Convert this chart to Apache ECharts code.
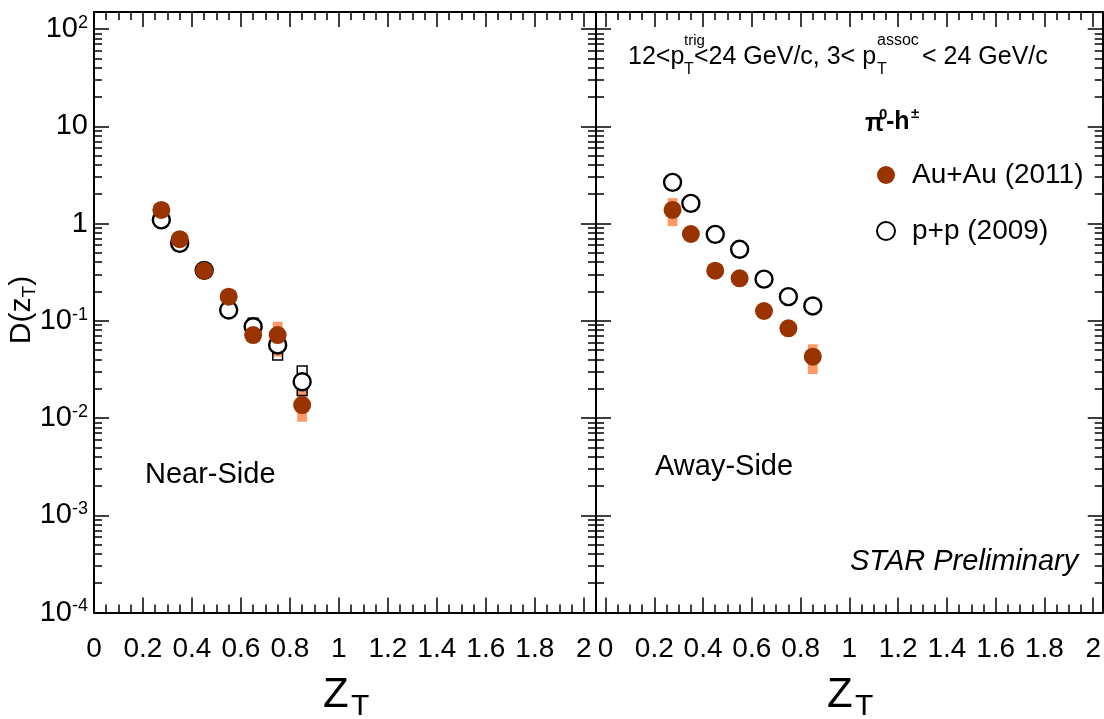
<!DOCTYPE html>
<html>
<head>
<meta charset="utf-8">
<script src="https://cdn.jsdelivr.net/npm/echarts@6/dist/echarts.min.js"></script>
<style>
  html, body { margin: 0; padding: 0; background: #fff; }
  #chart { width: 1104px; height: 719px; }
</style>
</head>
<body>
<div id="chart"></div>
<script>
// z_T bin centres shared by every data set
const zT = [0.275, 0.35, 0.45, 0.55, 0.65, 0.75, 0.85];

// Near-side D(z_T)
const nearAuAu      = [1.38, 0.69, 0.327, 0.177, 0.0713, 0.0713, 0.0136];
const nearAuAuSysLo = [1.20, 0.60, 0.290, 0.155, 0.0620, 0.0427, 0.00916];
const nearAuAuSysHi = [1.55, 0.78, 0.370, 0.200, 0.0820, 0.0977, 0.0191];
const nearPP        = [1.09, 0.625, 0.330, 0.129, 0.0869, 0.0564, 0.0236];
const nearPPSysLo   = [0.95, 0.55, 0.290, 0.115, 0.0750, 0.0394, 0.0170];
const nearPPSysHi   = [1.25, 0.70, 0.380, 0.145, 0.1060, 0.0750, 0.0343];

// Away-side D(z_T)
const awayAuAu      = [1.38, 0.78, 0.327, 0.273, 0.126, 0.0835, 0.0427];
const awayAuAuSysLo = [0.94, 0.68, 0.280, 0.240, 0.110, 0.0730, 0.0283];
const awayAuAuSysHi = [1.82, 0.90, 0.380, 0.310, 0.145, 0.0950, 0.0573];
const awayPP        = [2.65, 1.61, 0.774, 0.543, 0.268, 0.177, 0.142];
const awayPPSysLo   = [2.40, 1.46, 0.700, 0.490, 0.242, 0.160, 0.128];
const awayPPSysHi   = [2.90, 1.78, 0.850, 0.600, 0.295, 0.195, 0.156];

// Axis ticks and labels
const xMajorTicks  = [0, 0.2, 0.4, 0.6, 0.8, 1, 1.2, 1.4, 1.6, 1.8, 2];
const xTickLabels  = ['0', '0.2', '0.4', '0.6', '0.8', '1', '1.2', '1.4', '1.6', '1.8', '2'];
const yDecades     = [1e-4, 1e-3, 1e-2, 1e-1, 1, 10, 100];

const FONT = '"Liberation Sans", Arial, Helvetica, sans-serif';
const AU_COLOR = '#993300';
const SYS_COLOR = '#ff9966';

// minor tick positions: 0.05 steps in x, 2..9 x 10^k in y
const xMinorTicks = [];
for (let i = 1; i <= 40; i++) { if (i % 4 !== 0) xMinorTicks.push(+(i * 0.05).toFixed(2)); }
const yMinorTicks = [];
for (let k = -4; k <= 1; k++) { for (let m = 2; m <= 9; m++) yMinorTicks.push(+(m * Math.pow(10, k)).toPrecision(3)); }

const TICK_STYLE = { color: '#000', width: 1.5 };
const LINE_STYLE = { color: '#000', width: 2 };

function xAxesFor(gridIndex, min, max) {
  const common = { type: 'value', gridIndex, min, max, splitLine: { show: false } };
  return [
    Object.assign({}, common, {
      position: 'bottom',
      axisLine: { show: true, onZero: false, lineStyle: LINE_STYLE },
      axisTick: { show: true, inside: true, length: 15, lineStyle: TICK_STYLE, customValues: xMajorTicks },
      axisLabel: {
        show: true, margin: 23, fontSize: 28, fontFamily: FONT, color: '#000',
        customValues: xMajorTicks,
        formatter: v => { const i = xMajorTicks.findIndex(t => Math.abs(t - v) < 1e-6); return i >= 0 ? xTickLabels[i] : ''; }
      }
    }),
    Object.assign({}, common, {
      position: 'bottom',
      axisLine: { show: false, onZero: false },
      axisTick: { show: true, inside: true, length: 8, lineStyle: TICK_STYLE, customValues: xMinorTicks },
      axisLabel: { show: false }
    }),
    Object.assign({}, common, {
      position: 'top',
      axisLine: { show: true, onZero: false, lineStyle: LINE_STYLE },
      axisTick: { show: true, inside: true, length: 15, lineStyle: TICK_STYLE, customValues: xMajorTicks },
      axisLabel: { show: false }
    }),
    Object.assign({}, common, {
      position: 'top',
      axisLine: { show: false, onZero: false },
      axisTick: { show: true, inside: true, length: 8, lineStyle: TICK_STYLE, customValues: xMinorTicks },
      axisLabel: { show: false }
    })
  ];
}

function yAxesFor(gridIndex, withLabels) {
  const common = { type: 'log', logBase: 10, gridIndex, min: 1e-4, max: 149.6, splitLine: { show: false } };
  return [
    Object.assign({}, common, {
      position: 'left',
      axisLine: { show: true, onZero: false, lineStyle: LINE_STYLE },
      axisTick: { show: true, inside: true, length: 15, lineStyle: TICK_STYLE, customValues: yDecades },
      axisLabel: withLabels ? {
        show: true, margin: 6, fontFamily: FONT, color: '#000',
        customValues: yDecades,
        formatter: v => {
          const e = Math.round(Math.log10(v));
          if (e === 0) return '{b|1}';
          if (e === 1) return '{b|10}';
          return '{b|10}{s|' + e + '}';
        },
        rich: {
          b: { fontSize: 29, fontFamily: FONT, color: '#000', lineHeight: 30 },
          s: { fontSize: 18, fontFamily: FONT, color: '#000', lineHeight: 20, verticalAlign: 'top' }
        }
      } : { show: false }
    }),
    Object.assign({}, common, {
      position: 'left',
      axisLine: { show: false, onZero: false },
      axisTick: { show: true, inside: true, length: 8, lineStyle: TICK_STYLE, customValues: yMinorTicks },
      axisLabel: { show: false }
    }),
    Object.assign({}, common, {
      position: 'right',
      axisLine: { show: true, onZero: false, lineStyle: LINE_STYLE },
      axisTick: { show: true, inside: true, length: 15, lineStyle: TICK_STYLE, customValues: yDecades },
      axisLabel: { show: false }
    }),
    Object.assign({}, common, {
      position: 'right',
      axisLine: { show: false, onZero: false },
      axisTick: { show: true, inside: true, length: 8, lineStyle: TICK_STYLE, customValues: yMinorTicks },
      axisLabel: { show: false }
    })
  ];
}

// systematic-uncertainty boxes, drawn in data coordinates
const BOX_HALF_WIDTH = 0.02;
function boxSeries(axisIndex, lo, hi, style) {
  return {
    type: 'custom',
    xAxisIndex: axisIndex, yAxisIndex: axisIndex,
    silent: true,
    data: zT.map((x, i) => [x, lo[i], hi[i]]),
    encode: { x: 0, y: [1, 2] },
    renderItem: (params, api) => {
      const x = api.value(0);
      const a = api.coord([x - BOX_HALF_WIDTH, api.value(1)]);
      const b = api.coord([x + BOX_HALF_WIDTH, api.value(2)]);
      return {
        type: 'rect',
        shape: { x: a[0], y: b[1], width: b[0] - a[0], height: a[1] - b[1] },
        style: style
      };
    }
  };
}

function pointSeries(name, axisIndex, values, itemStyle, size) {
  return {
    type: 'scatter', name,
    xAxisIndex: axisIndex, yAxisIndex: axisIndex,
    symbol: 'circle', symbolSize: size,
    itemStyle,
    emphasis: { disabled: true },
    data: zT.map((x, i) => [x, values[i]])
  };
}

const auStyle = { color: AU_COLOR, opacity: 1 };
const ppStyle = { color: '#fff', borderColor: '#000', borderWidth: 2.4, opacity: 1 };
const auBox = { fill: SYS_COLOR };
const ppBox = { fill: 'none', stroke: '#000', lineWidth: 1.5 };

function txt(x, y, text, size, extra) {
  return {
    type: 'text', x, y,
    style: Object.assign({ text, fontSize: size, fontFamily: FONT, fill: '#000', verticalAlign: 'middle', align: 'left' }, extra || {})
  };
}

const chart = echarts.init(document.getElementById('chart'), null, { renderer: 'canvas' });
chart.setOption({
  animation: false,
  backgroundColor: '#fff',
  grid: [
    { left: 94, top: 12, width: 502, height: 600.5 },
    { left: 596, top: 12, width: 507, height: 600.5 }
  ],
  xAxis: [].concat(xAxesFor(0, 0, 2.05), xAxesFor(1, -0.039, 2.039)),
  yAxis: [].concat(yAxesFor(0, true), yAxesFor(1, false)),
  legend: {
    orient: 'vertical', left: 871, top: 156,
    itemWidth: 18, itemHeight: 18, itemGap: 28,
    selectedMode: false,
    data: ['Au+Au (2011)', 'p+p (2009)'],
    textStyle: { fontSize: 28, fontFamily: FONT, color: '#000', padding: [0, 0, 0, 12] }
  },
  series: [
    boxSeries(0, nearAuAuSysLo, nearAuAuSysHi, auBox),
    boxSeries(0, nearPPSysLo, nearPPSysHi, ppBox),
    pointSeries('p+p (2009)', 0, nearPP, ppStyle, 17),
    pointSeries('Au+Au (2011)', 0, nearAuAu, auStyle, 18),
    boxSeries(4, awayAuAuSysLo, awayAuAuSysHi, auBox),
    boxSeries(4, awayPPSysLo, awayPPSysHi, ppBox),
    pointSeries('p+p (2009)', 4, awayPP, ppStyle, 17),
    pointSeries('Au+Au (2011)', 4, awayAuAu, auStyle, 18)
  ],
  graphic: [
    // y-axis title D(z_T)
    {
      type: 'text', x: 22, y: 310, rotation: Math.PI / 2,
      style: {
        text: '{a|D(z}{t|T}{a|)}', align: 'center', verticalAlign: 'middle',
        rich: {
          a: { fontSize: 30, fontFamily: FONT, fill: '#000', lineHeight: 34 },
          t: { fontSize: 19, fontFamily: FONT, fill: '#000', lineHeight: 19, verticalAlign: 'bottom', padding: [12, 0, 0, 0] }
        }
      }
    },
    // x-axis titles Z_T
    txt(323, 695, 'Z', 42), txt(351, 707, 'T', 30),
    txt(827, 695, 'Z', 42), txt(855, 707, 'T', 30),
    // panel annotations
    txt(145, 475, 'Near-Side', 29),
    txt(655, 467, 'Away-Side', 29),
    txt(850, 562, 'STAR Preliminary', 29, { fontStyle: 'italic' }),
    // kinematic cuts
    txt(628, 57, '12<p', 25),
    txt(684, 41, 'trig', 15),
    txt(684, 70, 'T', 16),
    txt(694, 57, '<24 GeV/c, 3< p', 25),
    txt(877, 41, 'assoc', 16),
    txt(877, 70, 'T', 16),
    txt(922, 57, '< 24 GeV/c', 25),
    // particle pair label
    txt(865, 124, '\u03c0', 25, { fontWeight: 'bold' }),
    txt(879, 115, '0', 15, { fontWeight: 'bold' }),
    txt(886, 122, '-h', 25, { fontWeight: 'bold' }),
    txt(911, 114, '\u00b1', 15, { fontWeight: 'bold' })
  ]
});
</script>
</body>
</html>
